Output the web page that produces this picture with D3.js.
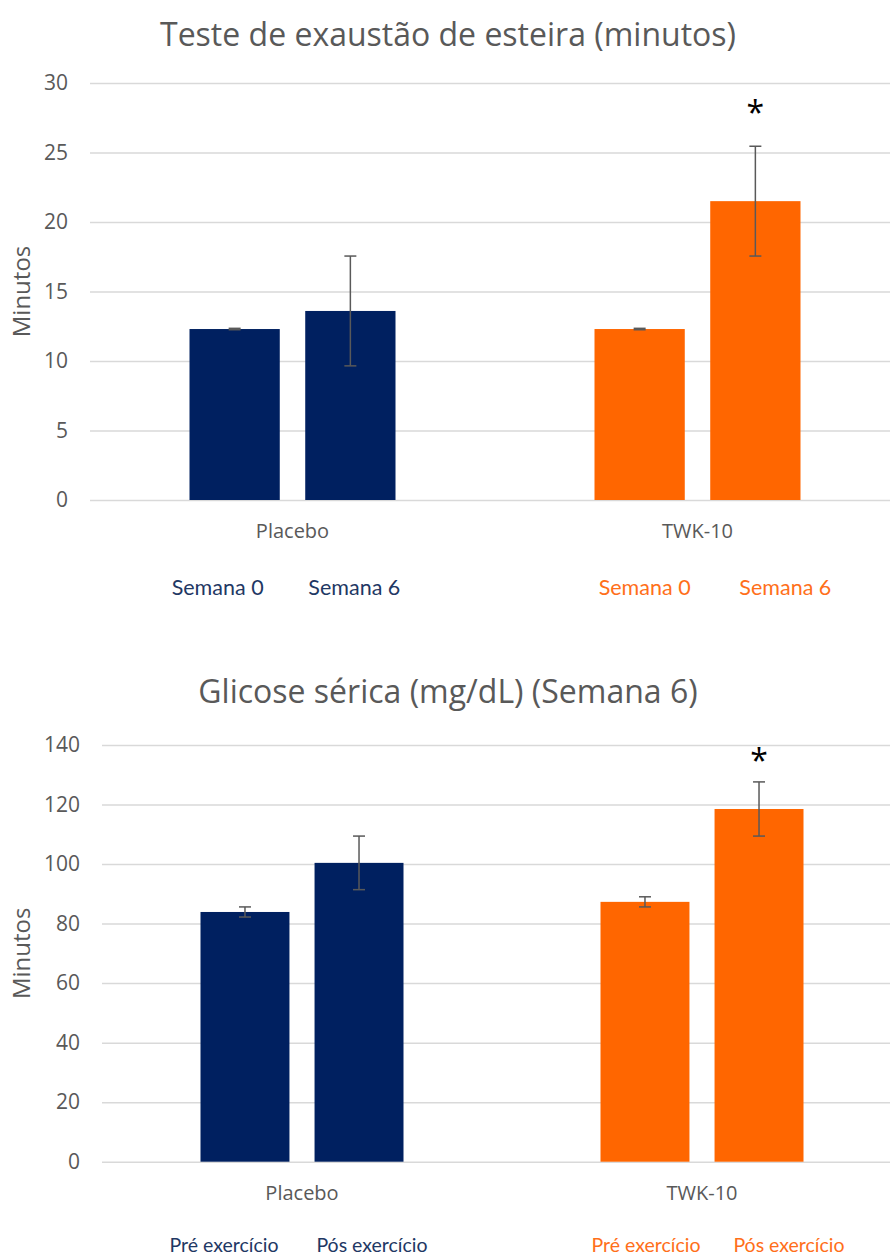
<!DOCTYPE html>
<html><head><meta charset="utf-8">
<script src="https://cdn.jsdelivr.net/npm/d3@7"></script>
<style>body{margin:0;background:#fff}svg{display:block}</style>
</head><body>
<script>
// ---- data ----
const groups = ["Placebo", "TWK-10"];
const exhaustionSeries = ["Semana 0", "Semana 6"];
const exhaustionMeans = [[12.3, 13.6], [12.3, 21.5]];
const exhaustionErrors = [[0.05, 3.95], [0.05, 3.95]];
const exhaustionTicks = [0, 5, 10, 15, 20, 25, 30];
const exhaustionStars = [[false, false], [false, true]];

const glucoseSeries = ["Pré exercício", "Pós exercício"];
const glucoseMeans = [[83.9, 100.4], [87.3, 118.5]];
const glucoseErrors = [[1.7, 9.0], [1.7, 9.1]];
const glucoseTicks = [0, 20, 40, 60, 80, 100, 120, 140];
const glucoseStars = [[false, false], [false, true]];

const groupColors = ["#002060", "#FF6600"];
const legendColors = ["#1F3864", "#FF6F1A"];

const W = 890, H = 1258;
const svg = d3.select("body").append("svg").attr("width", W).attr("height", H);
const FONT = "'Open Sans', sans-serif";
const gray = "#595959";

function drawChart(cfg) {
  const g = svg.append("g");
  const x0 = d3.scaleBand().domain(groups).range([cfg.left, cfg.right]).paddingInner(0).paddingOuter(0);
  const x1 = d3.scaleBand().domain(cfg.series).range([0, cfg.groupW]).paddingInner(0.22);
  const y = d3.scaleLinear().domain([0, d3.max(cfg.ticks)]).range([cfg.bottom, cfg.top]);

  // title
  g.append("text").attr("x", W / 2 + 3).attr("y", cfg.titleY).attr("text-anchor", "middle")
    .attr("font-family", FONT).attr("font-size", 32).attr("fill", gray).text(cfg.title);

  // gridlines + y axis
  const yAxis = d3.axisLeft(y).tickValues(cfg.ticks).tickSize(-(cfg.right - cfg.left)).tickPadding(cfg.tickPad);
  const ay = g.append("g").attr("transform", `translate(${cfg.left},0)`).call(yAxis);
  ay.select(".domain").remove();
  ay.selectAll(".tick line").attr("stroke", "#d9d9d9").attr("stroke-width", 1.5);
  ay.selectAll(".tick text").attr("font-family", FONT).attr("font-size", 21).attr("fill", gray);

  // y label
  g.append("text").attr("transform", `translate(30,${(cfg.top + cfg.bottom) / 2}) rotate(-90)`)
    .attr("text-anchor", "middle").attr("font-family", FONT).attr("font-size", 24).attr("fill", gray).text("Minutos");

  // bars
  groups.forEach((grp, gi) => {
    const gx = x0(grp) + (x0.bandwidth() - cfg.groupW) / 2;
    cfg.series.forEach((s, si) => {
      const bx = gx + x1(s);
      const v = cfg.means[gi][si], e = cfg.errors[gi][si];
      g.append("rect").attr("x", bx).attr("y", y(v)).attr("width", x1.bandwidth())
        .attr("height", y(0) - y(v)).attr("fill", groupColors[gi]);
      const cx = bx + x1.bandwidth() / 2;
      g.append("line").attr("x1", cx).attr("x2", cx).attr("y1", y(v + e)).attr("y2", y(v - e))
        .attr("stroke", gray).attr("stroke-width", 1.5);
      [v + e, v - e].forEach(val => {
        g.append("line").attr("x1", cx - 6).attr("x2", cx + 6).attr("y1", y(val)).attr("y2", y(val))
          .attr("stroke", gray).attr("stroke-width", 1.5);
      });
      if (cfg.stars[gi][si]) {
        g.append("text").attr("x", cx).attr("y", y(v + e) - cfg.starGap).attr("text-anchor", "middle")
          .attr("font-family", FONT).attr("font-size", 32).attr("fill", "#000").text("*");
      }
    });
    // category label
    g.append("text").attr("x", x0(grp) + x0.bandwidth() / 2).attr("y", cfg.bottom + 38)
      .attr("text-anchor", "middle").attr("font-family", FONT).attr("font-size", 20).attr("fill", gray).text(grp);
    // series labels
    cfg.series.forEach((s, si) => {
      const bx = gx + x1(s) + x1.bandwidth() / 2;
      g.append("text").attr("x", bx + cfg.labelOffsets[gi][si]).attr("y", cfg.legendY)
        .attr("text-anchor", "middle").attr("font-family", "Lato, sans-serif").attr("font-size", cfg.legendSize)
        .attr("fill", legendColors[gi]).text(s);
    });
  });
}

drawChart({
  title: "Teste de exaustão de esteira (minutos)", titleY: 46,
  series: exhaustionSeries, means: exhaustionMeans, errors: exhaustionErrors, ticks: exhaustionTicks,
  stars: exhaustionStars,
  left: 90, right: 900, top: 83, bottom: 500, groupW: 206, tickPad: 22, starGap: 22,
  legendY: 595, legendSize: 21.5, labelOffsets: [[-17, 4], [5, 30]]
});

drawChart({
  title: "Glicose sérica (mg/dL) (Semana 6)", titleY: 703,
  series: glucoseSeries, means: glucoseMeans, errors: glucoseErrors, ticks: glucoseTicks,
  stars: glucoseStars,
  left: 102, right: 902, top: 745, bottom: 1161.7, groupW: 203, tickPad: 22, starGap: 10,
  legendY: 1252, legendSize: 19.5, labelOffsets: [[-21, 13], [1, 30]]
});
</script>
</body></html>
